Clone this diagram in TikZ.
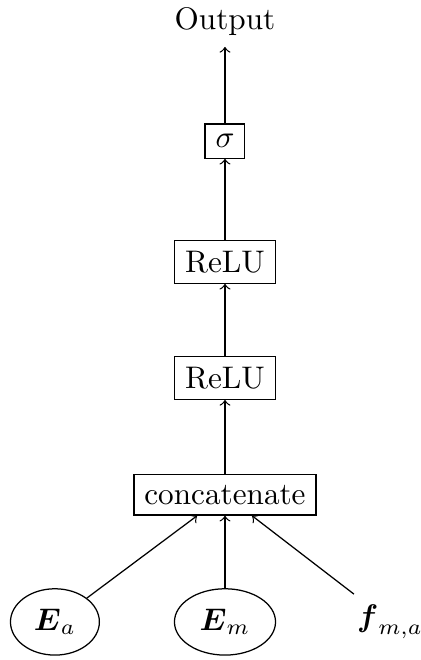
\documentclass[tikz,border=0pt]{standalone}
\usepackage{amsmath}
\usetikzlibrary{shapes.geometric}
\begin{document}
\begin{tikzpicture}[x=1pt,y=1pt,
  layer/.style={draw, rectangle},
  embed/.style={draw, ellipse},
  flow/.style={->}]
\useasboundingbox (0,0) rectangle (134.6,211.5);
\node (out) at (72.1,204.5) {Output};
\node[layer] (sig) at (72.1,166.3) {$\sigma$};
\node[layer] (relu1) at (72.1,127.6) {ReLU};
\node[layer] (relu2) at (72.1,90.4) {ReLU};
\node[layer] (cat) at (72.1,52.9) {concatenate};
\node[embed] (ea) at (17.6,12.2) {$\boldsymbol{E}_a$};
\node[embed] (em) at (72.1,12.2) {$\boldsymbol{E}_m$};
\node (fma) at (125.0,12.2) {$\boldsymbol{f}_{m,a}$};
\draw[flow] (sig) -- (out);
\draw[flow] (relu1) -- (sig);
\draw[flow] (relu2) -- (relu1);
\draw[flow] (cat) -- (relu2);
\draw[flow] (ea) -- (cat);
\draw[flow] (em) -- (cat);
\draw[flow] (fma) -- (cat);
\end{tikzpicture}
\end{document}
